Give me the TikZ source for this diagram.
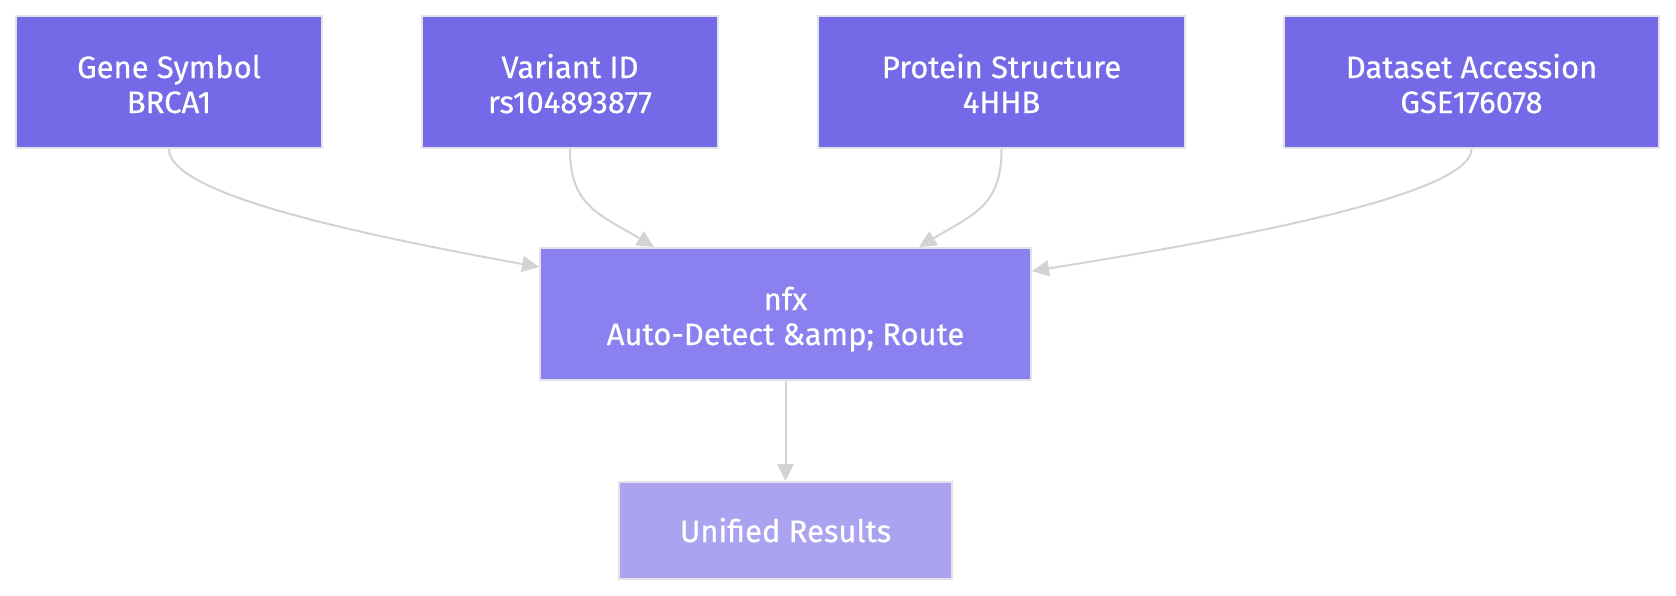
\documentclass[tikz,border=0pt]{standalone}
\usepackage{fontspec}
\setmainfont{Fira Sans}[FakeBold=0.5]
\usetikzlibrary{arrows.meta,calc}
\definecolor{topfill}{HTML}{746AE8}
\definecolor{midfill}{HTML}{8B80F0}
\definecolor{botfill}{HTML}{ABA3EF}
\definecolor{edgegray}{HTML}{D3D3D3}
\definecolor{bordergray}{HTML}{E2E2E8}
\newcommand{\boxlbl}[2][-6.5pt]{\raisebox{#1}[\height][\depth]{\begin{tabular}{@{}c@{}}#2\end{tabular}}}
\tikzset{
  box/.style={draw=bordergray, line width=2pt, text=white,
    inner sep=0pt, font=\fontsize{31}{35}\selectfont},
  topbox/.style={box, fill=topfill, minimum height=132pt},
  conn/.style={draw=edgegray, line width=2pt,
    -{Triangle[length=17pt,width=16pt]}}
}
\begin{document}
\begin{tikzpicture}[x=1pt,y=-1pt]
\fill[white] (0,0) rectangle (1676,595);
\useasboundingbox (0,0) rectangle (1676,595);
\node[topbox, minimum width=306pt] (b1) at (169,82) {\boxlbl{Gene Symbol\\BRCA1}};
\node[topbox, minimum width=296pt] (b2) at (570,82) {\boxlbl{Variant ID\\rs104893877}};
\node[topbox, minimum width=367pt] (b3) at (1001.5,82) {\boxlbl{Protein Structure\\4HHB}};
\node[topbox, minimum width=375pt] (b4) at (1471.5,82) {\boxlbl{Dataset Accession\\GSE176078}};
\node[box, fill=midfill, minimum width=491pt, minimum height=132pt] (mid) at (785.5,314) {\boxlbl{nfx\\Auto-Detect \&amp; Route}};
\node[box, fill=botfill, minimum width=333pt, minimum height=97pt] (res) at (785.5,530.5) {\boxlbl[-4.5pt]{Unified Results}};
\draw[conn] (b1.south) .. controls +(0,42) and +(-210,-38) .. ($(mid.north west)+(0,20)$);
\draw[conn] (b2.south) .. controls +(0,57) and +(-55,-33) .. ($(mid.north west)+(115,0)$);
\draw[conn] (b3.south) .. controls +(0,57) and +(55,-33) .. ($(mid.north east)+(-113,0)$);
\draw[conn] (b4.south) .. controls +(0,42) and +(240,-38) .. ($(mid.north east)+(0,24)$);
\draw[conn] (mid.south) -- (res.north);
\end{tikzpicture}
\end{document}
